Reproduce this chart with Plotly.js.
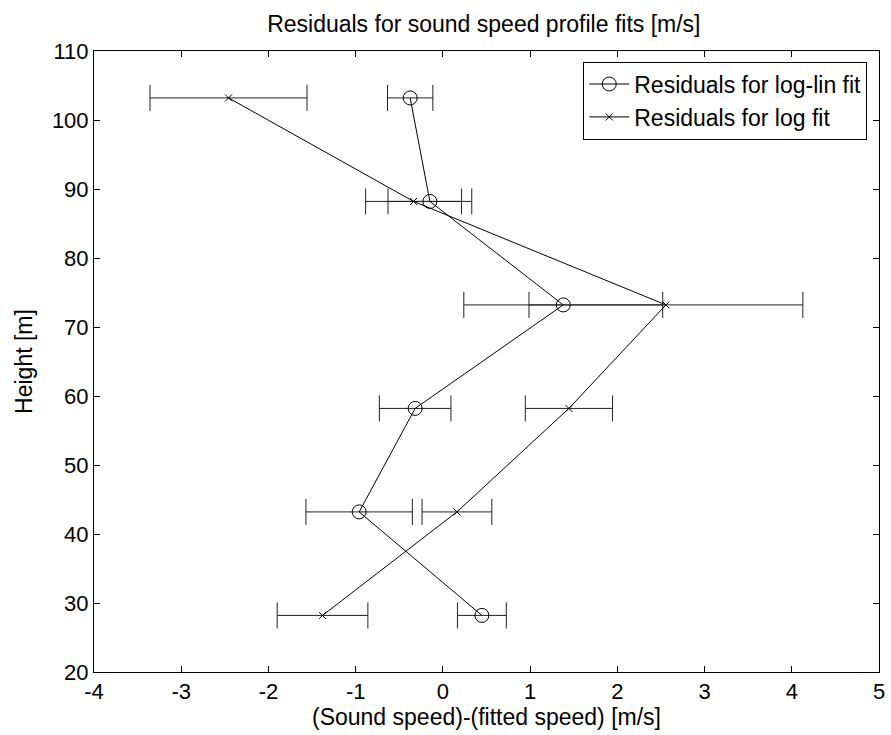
<!DOCTYPE html>
<html>
<head>
<meta charset="utf-8">
<script src="https://cdn.plot.ly/plotly-3.0.1.min.js"></script>
<style>html,body{margin:0;padding:0;background:#fff;}#chart{width:891px;height:735px;}</style>
</head>
<body>
<div id="chart"></div>
<script>
// Heights [m]
const heights = [28.2, 43.2, 58.2, 73.2, 88.2, 103.2];
// Residuals for log-lin fit [m/s] and error half-widths
const logLinResid = [0.447, -0.96, -0.318, 1.38, -0.149, -0.375];
const logLinErr   = [0.28, 0.61, 0.41, 1.14, 0.48, 0.26];
// Residuals for log fit [m/s] and error half-widths
const logResid = [-1.38, 0.161, 1.445, 2.557, -0.336, -2.458];
const logErr   = [0.52, 0.40, 0.50, 1.57, 0.55, 0.90];
// Axis ticks
const xTicks = [-4, -3, -2, -1, 0, 1, 2, 3, 4, 5];
const yTicks = [20, 30, 40, 50, 60, 70, 80, 90, 100, 110];

const font = "Liberation Sans, Arial, sans-serif";

const traces = [
  {
    x: logLinResid, y: heights, type: 'scatter', mode: 'lines+markers',
    name: 'Residuals for log-lin fit',
    line: {color: '#000', width: 1},
    marker: {symbol: 'circle-open', size: 14, color: '#000', line: {width: 1, color: '#000'}},
    error_x: {type: 'data', array: logLinErr, visible: true, color: '#222', thickness: 1, width: 13}
  },
  {
    x: logResid, y: heights, type: 'scatter', mode: 'lines+markers',
    name: 'Residuals for log fit',
    line: {color: '#000', width: 1},
    marker: {symbol: 'x-thin-open', size: 7, color: '#000', line: {width: 1, color: '#000'}},
    error_x: {type: 'data', array: logErr, visible: true, color: '#222', thickness: 1, width: 13}
  }
];

const axisCommon = {
  showline: true, linecolor: '#000', linewidth: 1, mirror: 'allticks',
  ticks: 'inside', ticklen: 6, tickcolor: '#000', tickwidth: 1,
  showgrid: false, zeroline: false,
  tickfont: {family: font, size: 22, color: '#000'}
};

const layout = {
  width: 891, height: 735,
  margin: {l: 94, r: 12, t: 51, b: 63},
  paper_bgcolor: '#fff', plot_bgcolor: '#fff',
  showlegend: true,
  hovermode: false,
  title: {text: 'Residuals for sound speed profile fits [m/s]', font: {family: font, size: 23, color: '#000'}, x: 0.543, xanchor: 'center', y: 0.967, yanchor: 'middle'},
  xaxis: Object.assign({}, axisCommon, {
    range: [-4, 5], tickvals: xTicks, ticktext: xTicks.map(String),
    title: {text: '(Sound speed)-(fitted speed) [m/s]', font: {family: font, size: 23, color: '#000'}, standoff: 1}
  }),
  yaxis: Object.assign({}, axisCommon, {
    range: [20, 110], tickvals: yTicks, ticktext: yTicks.map(String),
    title: {text: 'Height [m]', font: {family: font, size: 23, color: '#000'}, standoff: 12}
  }),
  legend: {
    x: 0.985, y: 0.983, xanchor: 'right', yanchor: 'top',
    bgcolor: '#fff', bordercolor: '#000', borderwidth: 1,
    font: {family: font, size: 23, color: '#000'},
    itemwidth: 40,
    tracegroupgap: 0
  }
};

Plotly.newPlot('chart', traces, layout, {staticPlot: true, displayModeBar: false});
</script>
</body>
</html>
